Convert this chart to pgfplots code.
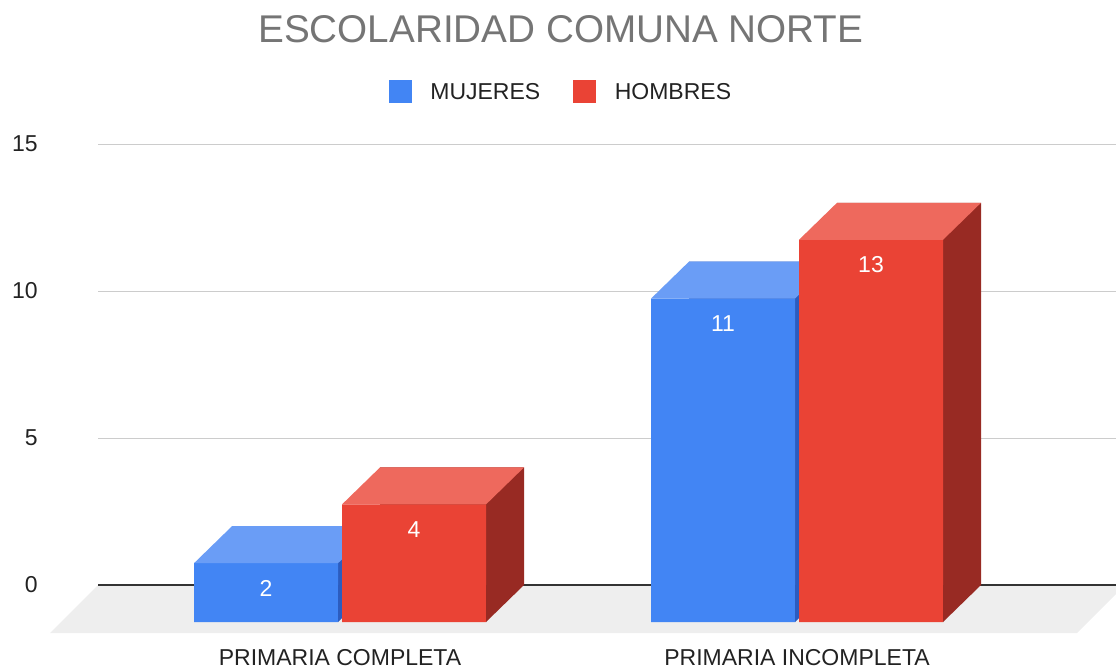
\documentclass[border=0pt]{standalone}
\usepackage{pgfplots}
\pgfplotsset{compat=1.18}
\usepackage{pgfplotstable}
\usepackage{fontspec}
\setmainfont{Liberation Sans}

\definecolor{azul}{HTML}{4285F4}
\definecolor{azultop}{HTML}{6A9DF6}
\definecolor{azullado}{HTML}{2C5CBF}
\definecolor{rojo}{HTML}{EA4335}
\definecolor{rojotop}{HTML}{EE695D}
\definecolor{rojolado}{HTML}{982A23}
\definecolor{piso}{HTML}{EEEEEE}
\definecolor{grilla}{HTML}{CCCCCC}
\definecolor{titulo}{HTML}{757575}
\definecolor{texto}{HTML}{222222}

\newcommand\fuente{\fontsize{17.25pt}{20pt}\selectfont}

% caras 3D (1px = 0.75pt; barra 144px, profundidad 38px x 37px)
\pgfdeclareplotmark{tapa}{%
  \pgfpathmoveto{\pgfqpoint{-54pt}{0pt}}%
  \pgfpathlineto{\pgfqpoint{54pt}{0pt}}%
  \pgfpathlineto{\pgfqpoint{25.5pt}{-27.75pt}}%
  \pgfpathlineto{\pgfqpoint{-82.5pt}{-27.75pt}}%
  \pgfpathclose\pgfusepathqfill}
\pgfdeclareplotmark{pie}{%
  \pgfpathmoveto{\pgfqpoint{25.5pt}{-27.75pt}}%
  \pgfpathlineto{\pgfqpoint{25.5pt}{0pt}}%
  \pgfpathlineto{\pgfqpoint{54pt}{0pt}}%
  \pgfpathclose\pgfusepathqfill}

\pgfplotstableread{
x m h
0 2 4
1 11 13
}\datos

\begin{document}
\begin{tikzpicture}
\useasboundingbox (0,0) rectangle (837pt,501.75pt);
\clip (0,0) rectangle (837pt,501.75pt);
% piso
\fill[piso] (73.5pt,63pt) -- (843.75pt,63pt) -- (807.75pt,27pt) -- (37.5pt,27pt) -- cycle;
\begin{axis}[
  at={(73.5pt,63pt)}, anchor=south west,
  scale only axis, width=763.5pt, height=330.75pt,
  xmin=-0.61269, xmax=1.61488, ymin=0, ymax=15,
  clip=false, clip marker paths=true,
  axis line style={draw=none}, major tick length=0pt,
  xtick={0,1}, xticklabels={PRIMARIA COMPLETA, PRIMARIA INCOMPLETA},
  ytick={5,10,15},
  extra y ticks={0},
  extra y tick style={major grid style={draw=black!80, line width=1.1pt}},
  ymajorgrids, major grid style={draw=grilla, line width=0.75pt},
  /pgf/number format/assume math mode=true,
  tick label style={font=\fuente, text=texto, inner sep=0pt},
  xticklabel style={anchor=center, xshift=-28.5pt, yshift=-54.75pt},
  yticklabel style={anchor=east, xshift=-45pt},
  title={ESCOLARIDAD COMUNA NORTE},
  title style={at={(0.4546,1.2426)}, anchor=center, yshift=0pt, inner sep=0pt, text=titulo,
    font=\fontsize{29pt}{32pt}\selectfont},
  legend columns=2,
  legend cell align=left,
  legend style={at={(0.4538,1.1202)}, anchor=center, draw=none, fill=none,
    inner sep=0pt, nodes={inner sep=0pt, text depth=0pt}, font=\fuente, text=texto,
    /tikz/every even column/.append style={column sep=24.75pt}},
]
\addlegendimage{legend image code/.code={\fill[azul] (0pt,-8.25pt) rectangle (16.5pt,8.25pt); \path (30.75pt,0pt);}}
\addlegendentry{MUJERES}
\addlegendimage{legend image code/.code={\fill[rojo] (0pt,-8.25pt) rectangle (16.5pt,8.25pt); \path (30.75pt,0pt);}}
\addlegendentry{HOMBRES}

% MUJERES
\addplot[ybar, bar width=108pt, bar shift=-55.5pt, fill=azullado, draw=none, forget plot]
  table[x=x, y=m] {\datos};
\addplot[ybar, bar width=108pt, bar shift=-55.5pt, fill=azul, draw=none, forget plot,
  xshift=-28.5pt, yshift=-27.75pt,
  nodes near coords, nodes near coords align={center},
  nodes near coords style={anchor=center, xshift=-55.5pt, yshift=-18.75pt, text=white, font=\fuente}]
  table[x=x, y=m] {\datos};
\addplot[only marks, mark=tapa, fill=azultop, mark options={fill=azultop}, xshift=-55.5pt, forget plot]
  table[x=x, y=m] {\datos};
\addplot[only marks, mark=pie, fill=azullado, mark options={fill=azullado}, xshift=-55.5pt, forget plot]
  table[x=x, y expr=0] {\datos};

% HOMBRES
\addplot[ybar, bar width=108pt, bar shift=55.5pt, fill=rojolado, draw=none, forget plot]
  table[x=x, y=h] {\datos};
\addplot[ybar, bar width=108pt, bar shift=55.5pt, fill=rojo, draw=none, forget plot,
  xshift=-28.5pt, yshift=-27.75pt,
  nodes near coords, nodes near coords align={center},
  nodes near coords style={anchor=center, xshift=55.5pt, yshift=-18.75pt, text=white, font=\fuente}]
  table[x=x, y=h] {\datos};
\addplot[only marks, mark=tapa, fill=rojotop, mark options={fill=rojotop}, xshift=55.5pt, forget plot]
  table[x=x, y=h] {\datos};
\addplot[only marks, mark=pie, fill=rojolado, mark options={fill=rojolado}, xshift=55.5pt, forget plot]
  table[x=x, y expr=0] {\datos};
\end{axis}
\end{tikzpicture}
\end{document}
